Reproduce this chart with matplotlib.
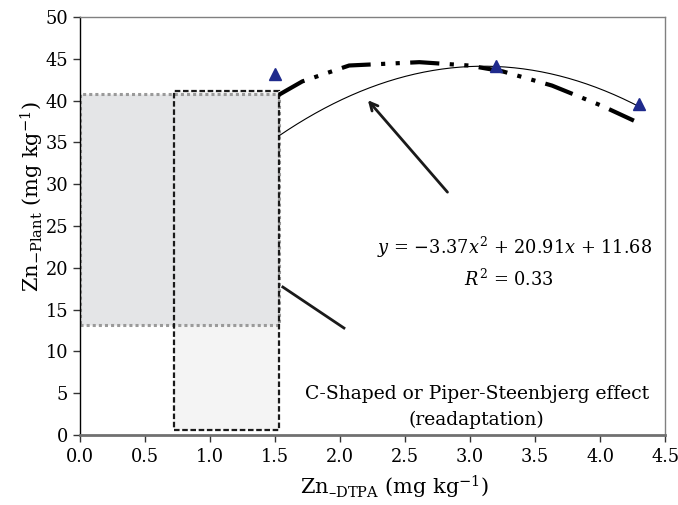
import numpy as np
import matplotlib
matplotlib.use("Agg")
import matplotlib.pyplot as plt
from matplotlib.patches import Rectangle

plt.rcParams['font.family'] = ['DejaVu Serif']
plt.rcParams['mathtext.fontset'] = 'dejavuserif'

# observed points (triangles)
obs_x = [1.5, 3.2, 4.3]
obs_y = [43.2, 44.1, 39.6]

# quadratic trendline coefficients (from the equation shown)
fit_coef = [-3.37, 20.91, 11.68]
fit_range = [1.53, 4.3]

# thick dash-dot-dot curve
curve_x = [1.53, 1.71, 2.07, 2.61, 2.99, 3.25, 3.63, 4.01, 4.26]
curve_y = [40.7, 42.3, 44.2, 44.6, 44.2, 43.5, 41.8, 39.4, 37.6]

# shaded regions: (x0, x1, y0, y1)
gray_box = [0.0, 1.53, 13.2, 40.8]
dash_box = [0.72, 1.53, 0.6, 41.2]

xticks = [0.0, 0.5, 1.0, 1.5, 2.0, 2.5, 3.0, 3.5, 4.0, 4.5]
yticks = [0, 5, 10, 15, 20, 25, 30, 35, 40, 45, 50]

fig = plt.figure(figsize=(6.78, 5.05), dpi=100)
ax = fig.add_axes([0.118, 0.1386, 0.863, 0.8277])
ax.set_xlim(0, 4.5)
ax.set_ylim(0, 50)

# lower part of dashed box (light)
ax.add_patch(Rectangle((dash_box[0], dash_box[2]), dash_box[1] - dash_box[0],
                       dash_box[3] - dash_box[2], facecolor='#f4f4f4',
                       edgecolor='none', zorder=1))
# gray box
ax.add_patch(Rectangle((gray_box[0], gray_box[2]), gray_box[1] - gray_box[0],
                       gray_box[3] - gray_box[2], facecolor='#e4e5e7',
                       edgecolor='#9a9a9a', linestyle=(0, (1, 1)), linewidth=2.2, zorder=2))
# dashed box outline
ax.add_patch(Rectangle((dash_box[0], dash_box[2]), dash_box[1] - dash_box[0],
                       dash_box[3] - dash_box[2], facecolor='none',
                       edgecolor='#1a1a1a', linestyle=(0, (2.5, 1.2)), linewidth=1.6, zorder=3))

# trendline
fx = np.linspace(fit_range[0], fit_range[1], 200)
ax.plot(fx, np.polyval(fit_coef, fx), color='black', linewidth=0.8, zorder=4)

# dash-dot-dot curve
ax.plot(curve_x, curve_y, color='black', linewidth=3.0,
        linestyle=(0, (7, 2.5, 1, 2.5, 1, 2.5)), zorder=4)

# triangles
ax.plot(obs_x, obs_y, linestyle='none', marker='^', markersize=8,
        color='#1f2a8c', zorder=5)

# arrow to curve
ax.annotate('', xy=(2.20, 40.3), xytext=(2.84, 28.8),
            arrowprops=dict(arrowstyle='->', color='#1a1a1a', lw=2.0,
                            mutation_scale=14), zorder=6)
# line to the boxes
ax.plot([1.56, 2.03], [17.7, 12.8], color='#1a1a1a', linewidth=2.0, zorder=6)

ax.text(3.34, 22.5, r'$y$ = −3.37$x^{2}$ + 20.91$x$ + 11.68', ha='center', va='center',
        fontsize=12.8)
ax.text(3.30, 18.6, r'$R^{2}$ = 0.33', ha='center', va='center', fontsize=12.8)
ax.text(3.05, 4.9, 'C-Shaped or Piper-Steenbjerg effect', ha='center', va='center',
        fontsize=13.5)
ax.text(3.05, 1.8, '(readaptation)', ha='center', va='center', fontsize=13.5)

ax.set_xticks(xticks)
ax.set_xticklabels([f'{v:.1f}' for v in xticks])
ax.set_yticks(yticks)
ax.set_yticklabels([str(v) for v in yticks])
ax.tick_params(axis='both', labelsize=12.8, direction='out', length=5, width=1, color='#333333')
ax.tick_params(axis='x', pad=4)

for s in ['top', 'right']:
    ax.spines[s].set_color('#808080')
    ax.spines[s].set_linewidth(1.0)
ax.spines['bottom'].set_color('#707070')
ax.spines['bottom'].set_linewidth(2.0)
ax.spines['left'].set_color('black')
ax.spines['left'].set_linewidth(1.0)

ax.set_xlabel(r'Zn$_{\mathregular{–DTPA}}$ (mg kg$^{\mathregular{-1}}$)', fontsize=15)
ax.set_ylabel(r'Zn$_{\mathregular{-Plant}}$ (mg kg$^{\mathregular{-1}}$)', fontsize=15)
ax.xaxis.set_label_coords(0.538, -0.093)
ax.yaxis.set_label_coords(-0.058, 0.57)

fig.savefig('out.png', dpi=100)
